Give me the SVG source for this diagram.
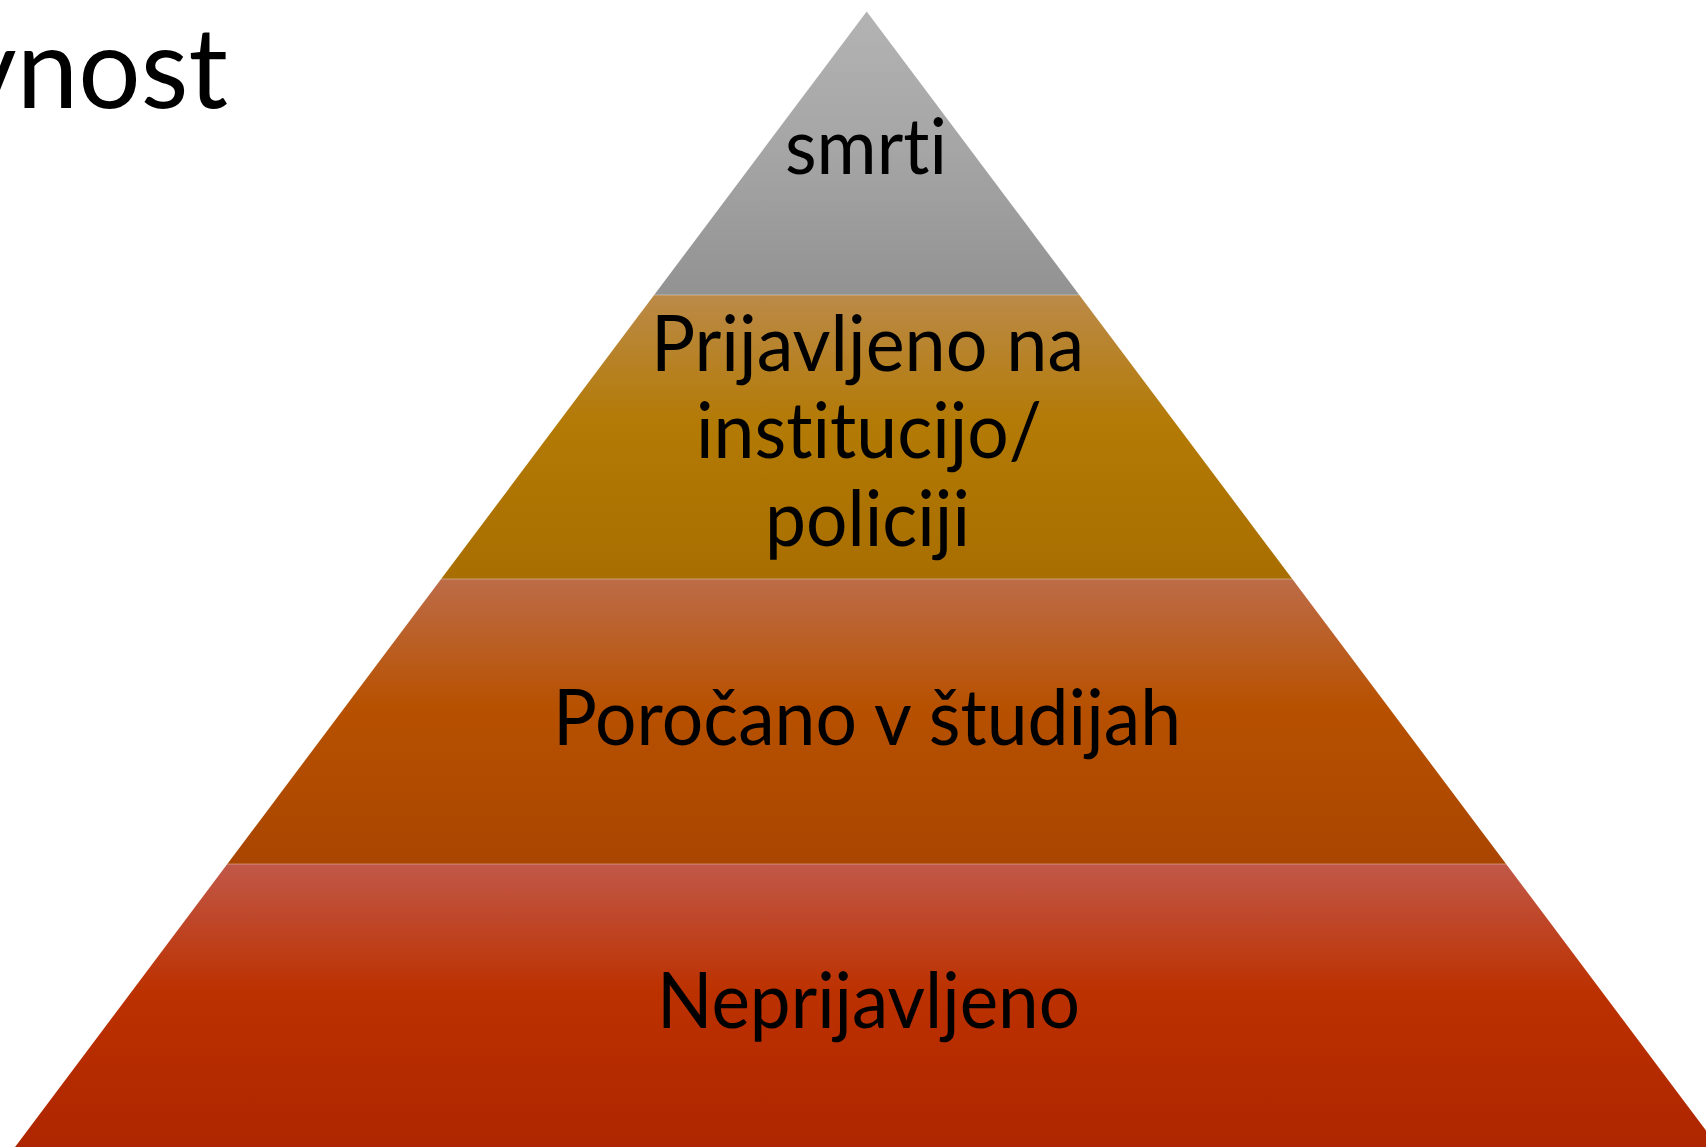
<svg xmlns="http://www.w3.org/2000/svg" width="1706" height="1147" viewBox="0 0 1706 1147">
<style>
  text { font-variant-ligatures: none; font-feature-settings: "liga" 0, "clig" 0; }
  .lbl { font-family: Lato, "Open Sans", "Liberation Sans", sans-serif; font-size: 77px; fill: #000; text-anchor: middle; }
  .title { font-family: Lato, "Open Sans", "Liberation Sans", sans-serif; font-size: 113px; fill: #000; }
  .sep { stroke: #ffffff; stroke-opacity: 0.35; stroke-width: 1.2; }
</style>
<defs>
  <linearGradient id="g1" x1="0" y1="0" x2="0" y2="1">
    <stop offset="0" stop-color="#b3b3b3"/>
    <stop offset="0.5" stop-color="#a5a5a5"/>
    <stop offset="1" stop-color="#929292"/>
  </linearGradient>
  <linearGradient id="g2" x1="0" y1="0" x2="0" y2="1">
    <stop offset="0" stop-color="#bb8a48"/>
    <stop offset="0.45" stop-color="#b37a05"/>
    <stop offset="1" stop-color="#a86e00"/>
  </linearGradient>
  <linearGradient id="g3" x1="0" y1="0" x2="0" y2="1">
    <stop offset="0" stop-color="#bd6c48"/>
    <stop offset="0.45" stop-color="#b75100"/>
    <stop offset="1" stop-color="#a94500"/>
  </linearGradient>
  <linearGradient id="g4" x1="0" y1="0" x2="0" y2="1">
    <stop offset="0" stop-color="#c15848"/>
    <stop offset="0.45" stop-color="#bc3100"/>
    <stop offset="1" stop-color="#ae2600"/>
  </linearGradient>
</defs>
<rect width="1706" height="1147" fill="#ffffff"/>
<g id="title">
  <text class="title" x="228" y="108" text-anchor="end" textLength="268" lengthAdjust="spacingAndGlyphs">vnost</text>
</g>
<g id="band-smrti">
  <polygon points="866.7,11.5 1079.3,295 654.1,295" fill="url(#g1)"/>
  <text class="lbl" x="866" y="174" textLength="162" lengthAdjust="spacingAndGlyphs">smrti</text>
</g>
<g id="band-prijavljeno">
  <polygon points="654.1,295 1079.3,295 1292.3,579 441.1,579" fill="url(#g2)"/>
  <text class="lbl" x="867.5" y="371" textLength="433" lengthAdjust="spacingAndGlyphs">Prijavljeno na</text>
  <text class="lbl" x="869" y="458" textLength="346" lengthAdjust="spacingAndGlyphs">institucijo/</text>
  <text class="lbl" x="867.5" y="546" textLength="205" lengthAdjust="spacingAndGlyphs">policiji</text>
</g>
<g id="band-porocano">
  <polygon points="441.1,579 1292.3,579 1506.1,864 227.3,864" fill="url(#g3)"/>
  <text class="lbl" x="867" y="745" textLength="628" lengthAdjust="spacingAndGlyphs">Poročano v študijah</text>
</g>
<g id="band-neprijavljeno">
  <polygon points="227.3,864 1506.1,864 1719.1,1148 14.3,1148" fill="url(#g4)"/>
  <text class="lbl" x="868.5" y="1028" textLength="423" lengthAdjust="spacingAndGlyphs">Neprijavljeno</text>
</g>
<g id="connectors">
  <line class="sep" x1="654.1" y1="295" x2="1079.3" y2="295"/>
  <line class="sep" x1="441.1" y1="579" x2="1292.3" y2="579"/>
  <line class="sep" x1="227.3" y1="864" x2="1506.1" y2="864"/>
</g>
</svg>
